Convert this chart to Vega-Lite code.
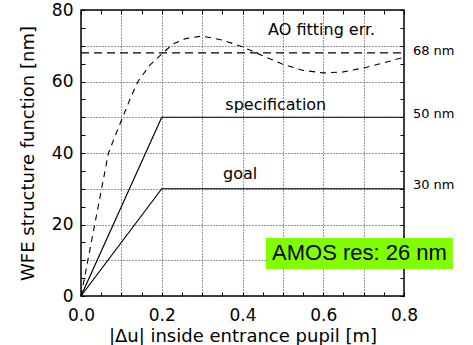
{
  "$schema": "https://vega.github.io/schema/vega-lite/v6.json",
  "width": 323,
  "height": 286,
  "autosize": {"type": "none"},
  "padding": {"left": 81, "top": 10, "right": 69, "bottom": 49},
  "background": "white",
  "config": {
    "view": {"stroke": "black", "strokeWidth": 1.5},
    "axis": {
      "domain": false,
      "tickColor": "black",
      "tickWidth": 1,
      "labelFont": "DejaVu Sans",
      "labelColor": "black",
      "labelFontSize": 17,
      "titleFont": "DejaVu Sans",
      "titleFontSize": 18,
      "titleFontWeight": "normal",
      "titleColor": "black"
    }
  },
  "datasets": {
    "solid": [
      {"series": "spec", "x": 0, "y": 0},
      {"series": "spec", "x": 0.2, "y": 50},
      {"series": "spec", "x": 0.8, "y": 50},
      {"series": "goal", "x": 0, "y": 0},
      {"series": "goal", "x": 0.2, "y": 30},
      {"series": "goal", "x": 0.8, "y": 30}
    ],
    "ao": [
      {"x": 0, "y": 0},
      {"x": 0.017, "y": 10},
      {"x": 0.034, "y": 20},
      {"x": 0.051, "y": 30},
      {"x": 0.068, "y": 40},
      {"x": 0.087, "y": 45.5},
      {"x": 0.105, "y": 50.5},
      {"x": 0.123, "y": 55.5},
      {"x": 0.141, "y": 60},
      {"x": 0.17, "y": 64.5},
      {"x": 0.2, "y": 67.7},
      {"x": 0.228, "y": 70.5},
      {"x": 0.26, "y": 72},
      {"x": 0.3, "y": 72.7},
      {"x": 0.35, "y": 71.6},
      {"x": 0.4, "y": 69.7},
      {"x": 0.45, "y": 67.2},
      {"x": 0.5, "y": 64.8},
      {"x": 0.55, "y": 63.1},
      {"x": 0.6, "y": 62.4},
      {"x": 0.65, "y": 62.7},
      {"x": 0.7, "y": 63.8},
      {"x": 0.75, "y": 65.2},
      {"x": 0.8, "y": 66.8}
    ],
    "fit": [
      {"x": 0, "y": 68},
      {"x": 0.8, "y": 68}
    ],
    "annot": [
      {"x": 0.596, "y": 73, "text": "AO fitting err."},
      {"x": 0.4825, "y": 52, "text": "specification"},
      {"x": 0.394, "y": 32.8, "text": "goal"}
    ],
    "rightlab": [
      {"x": 0.822, "y": 68.6, "text": "68 nm"},
      {"x": 0.822, "y": 51, "text": "50 nm"},
      {"x": 0.822, "y": 31, "text": "30 nm"}
    ],
    "box": [
      {"x": 0.458, "x2": 0.921, "y": 7.55, "y2": 16.2, "xt": 0.6898, "yt": 11.9, "text": "AMOS res: 26 nm"}
    ]
  },
  "layer": [
    {
      "data": {"name": "solid"},
      "mark": {"type": "line", "color": "black", "strokeWidth": 1.2},
      "encoding": {
        "x": {"field": "x", "type": "quantitative", "scale": {"domain": [0, 0.8], "nice": false},
          "axis": {"orient": "bottom", "values": [0, 0.1, 0.2, 0.3, 0.4, 0.5, 0.6, 0.7, 0.8], "labelExpr": "round(datum.value * 10) % 2 === 0 ? format(datum.value, '.1f') : ''", "labelFlush": false, "labelOverlap": false, "labelPadding": 11, "grid": true, "gridDash": [1, 2], "gridColor": "#333", "labels": true, "ticks": false, "title": "|Δu| inside entrance pupil [m]", "titlePadding": 4}},
        "y": {"field": "y", "type": "quantitative", "scale": {"domain": [0, 80], "nice": false},
          "axis": {"orient": "left", "values": [0, 10, 20, 30, 40, 50, 60, 70, 80], "labelExpr": "datum.value % 20 === 0 ? datum.value : ''", "labelFlush": false, "labelOverlap": false, "labelPadding": 8, "grid": true, "gridDash": [1, 2], "gridColor": "#333", "labels": true, "ticks": false, "title": "WFE structure function [nm]", "titlePadding": 14}},
        "detail": {"field": "series", "type": "nominal"}
      }
    },
    {
      "data": {"name": "ao"},
      "mark": {"type": "line", "color": "black", "strokeWidth": 1.1, "strokeDash": [6, 5]},
      "encoding": {
        "x": {"field": "x", "type": "quantitative", "scale": {"domain": [0, 0.8], "nice": false},
          "axis": {"orient": "bottom", "values": [0, 0.05, 0.1, 0.15, 0.2, 0.25, 0.3, 0.35, 0.4, 0.45, 0.5, 0.55, 0.6, 0.65, 0.7, 0.75, 0.8], "grid": false, "labels": false, "ticks": true, "tickSize": -4, "title": null}},
        "y": {"field": "y", "type": "quantitative", "scale": {"domain": [0, 80], "nice": false},
          "axis": {"orient": "left", "values": [0, 5, 10, 15, 20, 25, 30, 35, 40, 45, 50, 55, 60, 65, 70, 75, 80], "grid": false, "labels": false, "ticks": true, "tickSize": -4, "title": null}}
      }
    },
    {
      "data": {"name": "fit"},
      "mark": {"type": "line", "color": "black", "strokeWidth": 1.1, "strokeDash": [8, 5]},
      "encoding": {
        "x": {"field": "x", "type": "quantitative", "scale": {"domain": [0, 0.8], "nice": false},
          "axis": {"orient": "top", "values": [0, 0.05, 0.1, 0.15, 0.2, 0.25, 0.3, 0.35, 0.4, 0.45, 0.5, 0.55, 0.6, 0.65, 0.7, 0.75, 0.8], "grid": false, "labels": false, "ticks": true, "tickSize": -4, "title": null}},
        "y": {"field": "y", "type": "quantitative", "scale": {"domain": [0, 80], "nice": false},
          "axis": {"orient": "right", "values": [0, 5, 10, 15, 20, 25, 30, 35, 40, 45, 50, 55, 60, 65, 70, 75, 80], "grid": false, "labels": false, "ticks": true, "tickSize": -4, "title": null}}
      }
    },
    {
      "data": {"name": "annot"},
      "mark": {"type": "text", "font": "DejaVu Sans", "fontSize": 16, "align": "center", "baseline": "alphabetic", "color": "black"},
      "encoding": {
        "x": {"field": "x", "type": "quantitative", "scale": {"domain": [0, 0.8], "nice": false}, "axis": null},
        "y": {"field": "y", "type": "quantitative", "scale": {"domain": [0, 80], "nice": false}, "axis": null},
        "text": {"field": "text", "type": "nominal"}
      }
    },
    {
      "data": {"name": "rightlab"},
      "mark": {"type": "text", "font": "DejaVu Sans", "fontSize": 13, "align": "left", "baseline": "middle", "color": "black"},
      "encoding": {
        "x": {"field": "x", "type": "quantitative", "scale": {"domain": [0, 0.8], "nice": false}, "axis": null},
        "y": {"field": "y", "type": "quantitative", "scale": {"domain": [0, 80], "nice": false}, "axis": null},
        "text": {"field": "text", "type": "nominal"}
      }
    },
    {
      "data": {"name": "box"},
      "mark": {"type": "rect", "color": "#80FF00", "opacity": 1},
      "encoding": {
        "x": {"field": "x", "type": "quantitative", "scale": {"domain": [0, 0.8], "nice": false}, "axis": null},
        "x2": {"field": "x2"},
        "y": {"field": "y", "type": "quantitative", "scale": {"domain": [0, 80], "nice": false}, "axis": null},
        "y2": {"field": "y2"}
      }
    },
    {
      "data": {"name": "box"},
      "mark": {"type": "text", "font": "Liberation Sans", "fontSize": 22, "align": "center", "baseline": "middle", "color": "black"},
      "encoding": {
        "x": {"field": "xt", "type": "quantitative", "scale": {"domain": [0, 0.8], "nice": false}, "axis": null},
        "y": {"field": "yt", "type": "quantitative", "scale": {"domain": [0, 80], "nice": false}, "axis": null},
        "text": {"field": "text", "type": "nominal"}
      }
    }
  ],
  "resolve": {"axis": {"x": "independent", "y": "independent"}}
}
